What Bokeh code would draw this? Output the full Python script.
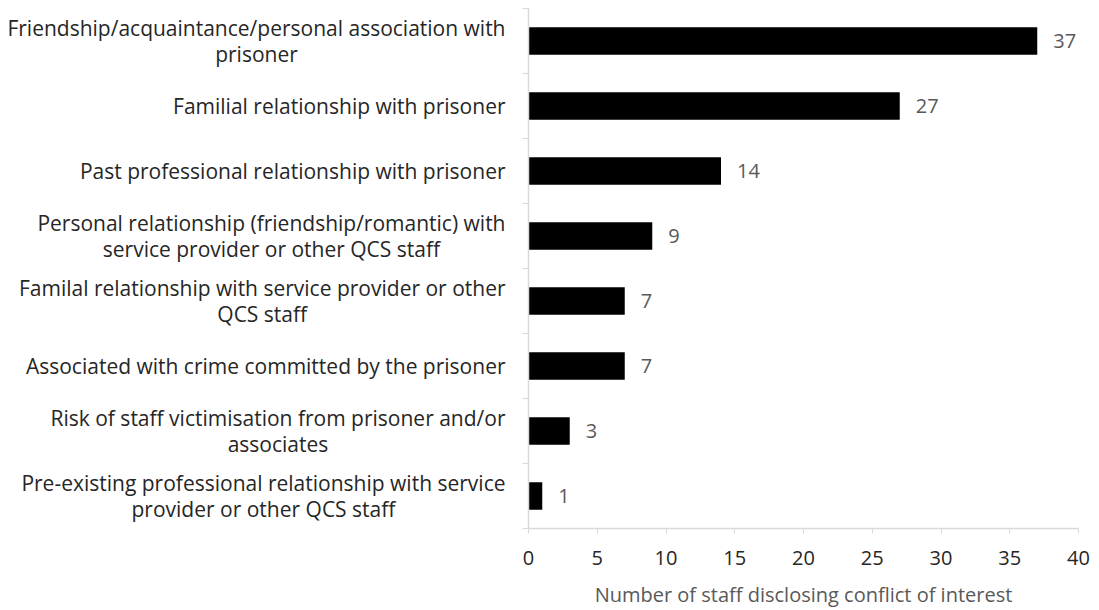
from bokeh.plotting import figure
from bokeh.layouts import row
from bokeh.models import ColumnDataSource, Range1d, FixedTicker, LabelSet
from bokeh.core.properties import value
from bokeh.embed import file_html
from bokeh.resources import INLINE

categories = [
    "Friendship/acquaintance/personal association with\nprisoner",
    "Familial relationship with prisoner",
    "Past professional relationship with prisoner",
    "Personal relationship (friendship/romantic) with\nservice provider or other QCS staff",
    "Familal relationship with service provider or other\nQCS staff",
    "Associated with crime committed by the prisoner",
    "Risk of staff victimisation from prisoner and/or\nassociates",
    "Pre-existing professional relationship with service\nprovider or other QCS staff",
]
counts = [37, 27, 14, 9, 7, 7, 3, 1]
x_ticks = [0, 5, 10, 15, 20, 25, 30, 35, 40]
x_title = "Number of staff disclosing conflict of interest"

FONT = "Open Sans"
AXIS_GREY = "#d9d9d9"
LEFT_W = 508
LABEL_RIGHT = 505
TOP, BOTTOM = 8, 81

n = len(categories)
pos = [i + 0.5 for i in range(n)]
source = ColumnDataSource(dict(pos=pos, counts=counts, lab=[str(c) for c in counts], cat=categories))
y_range = Range1d(n, 0)

# ---- left panel holding the category labels ----
lf = figure(width=LEFT_W, height=610, output_backend="svg", toolbar_location=None,
            x_range=Range1d(0, LEFT_W), y_range=y_range,
            x_axis_location=None, y_axis_location=None,
            min_border_left=0, min_border_right=0, min_border_top=TOP, min_border_bottom=BOTTOM)
lf.outline_line_color = None
lf.xgrid.grid_line_color = None
lf.ygrid.grid_line_color = None
lf.text(x=LABEL_RIGHT, y="pos", text="cat", source=source, anchor="center_right",
        text_align="center", text_baseline="middle", text_font=value(FONT),
        text_font_size="21px", text_color="#262626", text_line_height=0.95)

# ---- main chart ----
p = figure(width=1099 - LEFT_W, height=610, output_backend="svg", toolbar_location=None,
           x_range=Range1d(0, 40), y_range=y_range,
           min_border_left=20, min_border_right=21, min_border_top=TOP, min_border_bottom=BOTTOM)
p.outline_line_color = None
p.xgrid.grid_line_color = None
p.ygrid.grid_line_color = None

p.hbar(y="pos", right="counts", left=0, height=0.42, source=source,
       fill_color="black", line_color=None)

labels = LabelSet(x="counts", y="pos", text="lab", source=source, x_offset=16,
                  text_baseline="middle", text_align="left",
                  text_font=value(FONT), text_font_size="20px", text_color="#595959")
p.add_layout(labels)

# y axis: line plus separator ticks between categories
ya = p.yaxis[0]
ya.ticker = FixedTicker(ticks=[], minor_ticks=list(range(n + 1)))
ya.major_tick_out = 0
ya.major_tick_in = 0
ya.minor_tick_out = 6
ya.minor_tick_in = 0
ya.minor_tick_line_color = AXIS_GREY
ya.axis_line_color = AXIS_GREY
ya.axis_line_width = 1.5
ya.major_label_text_font_size = "0px"
ya.major_label_standoff = 0

# x axis
xa = p.xaxis[0]
xa.ticker = FixedTicker(ticks=x_ticks)
xa.minor_tick_line_color = None
xa.major_tick_out = 5
xa.major_tick_in = 0
xa.major_tick_line_color = AXIS_GREY
xa.axis_line_color = AXIS_GREY
xa.axis_line_width = 1.5
xa.major_label_text_font = FONT
xa.major_label_text_font_size = "20px"
xa.major_label_text_color = "#262626"
xa.major_label_standoff = 17
xa.axis_label = x_title
xa.axis_label_text_font = FONT
xa.axis_label_text_font_size = "20px"
xa.axis_label_text_font_style = "normal"
xa.axis_label_text_color = "#595959"
xa.axis_label_standoff = 13

layout = row(lf, p, spacing=0)
open("out.html", "w").write(file_html(layout, INLINE))
